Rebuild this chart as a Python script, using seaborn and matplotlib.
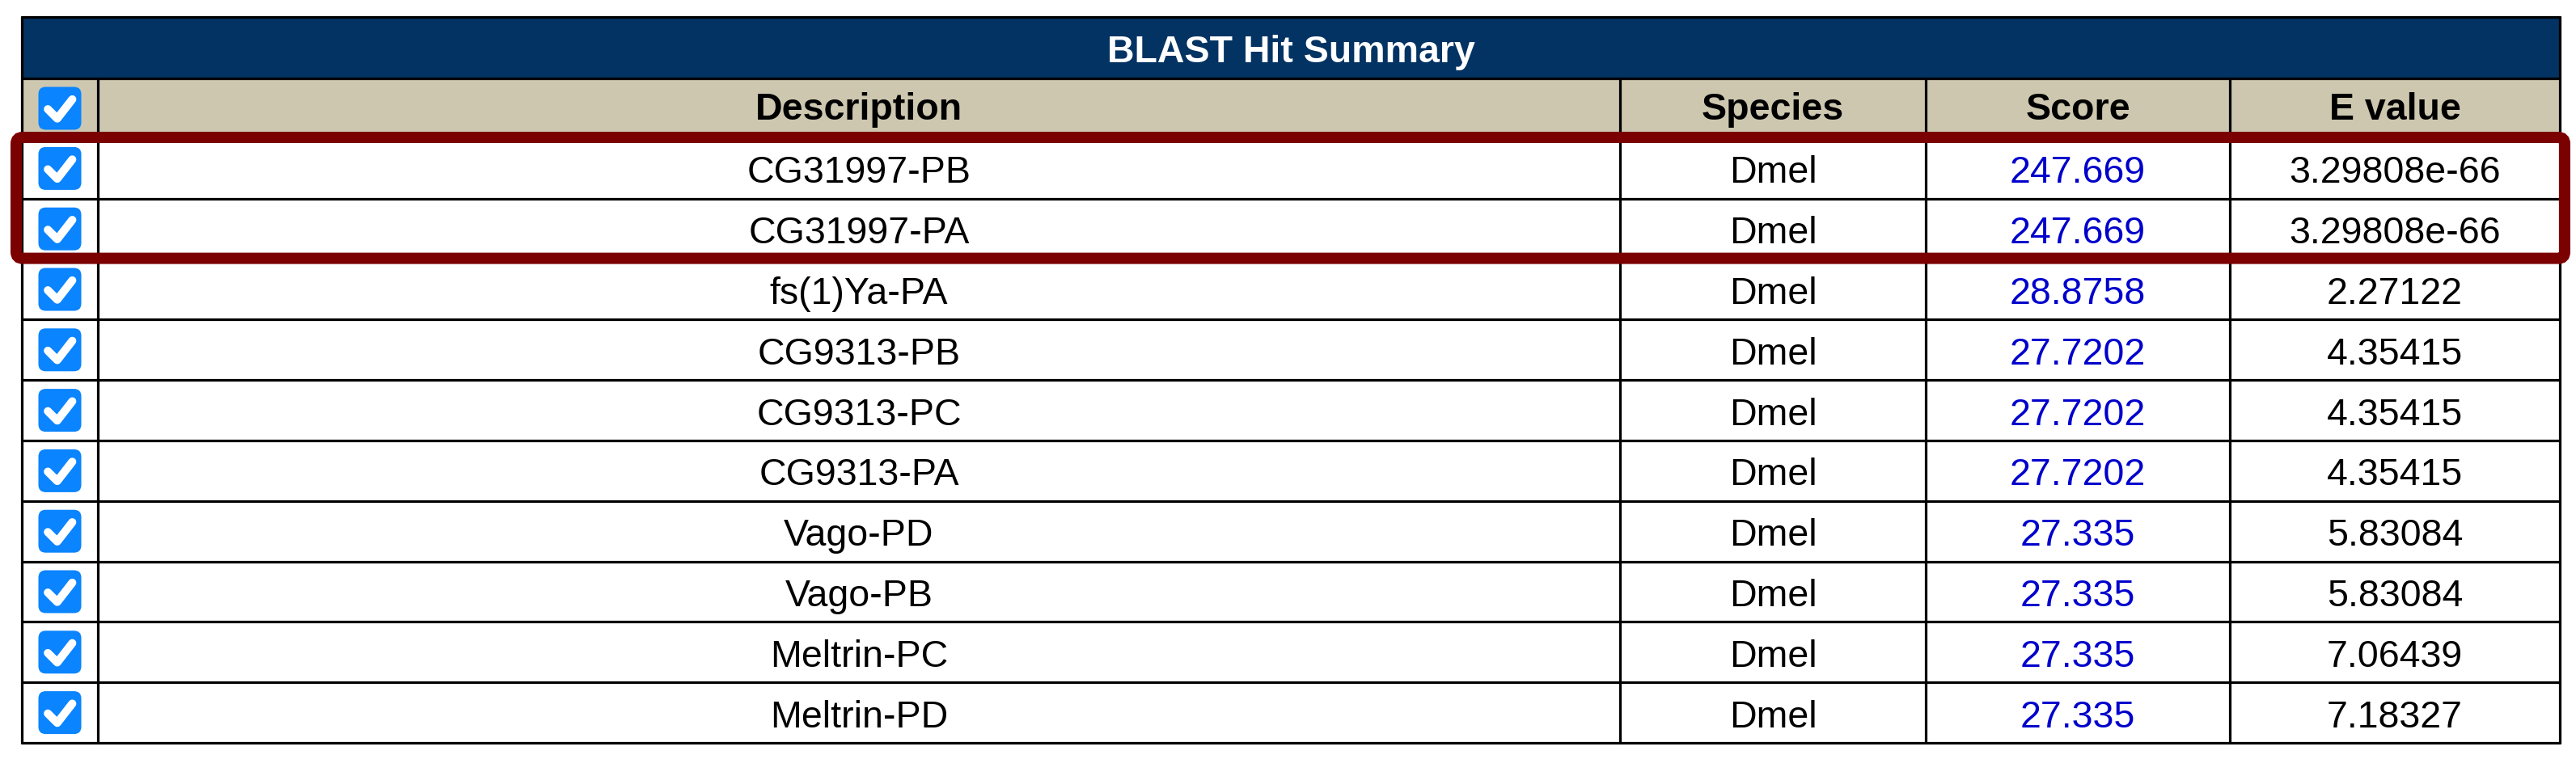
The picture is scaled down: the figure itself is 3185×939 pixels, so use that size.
import matplotlib
matplotlib.use("Agg")
import matplotlib.pyplot as plt
from matplotlib.patches import Rectangle, FancyBboxPatch
import seaborn as sns

sns.set_theme(style="white")
plt.rcParams['font.family'] = ['Liberation Sans', 'DejaVu Sans']

# ---- data ----
title = "BLAST Hit Summary"
headers = ["Description", "Species", "Score", "E value"]
descriptions = ["CG31997-PB", "CG31997-PA", "fs(1)Ya-PA", "CG9313-PB", "CG9313-PC",
                "CG9313-PA", "Vago-PD", "Vago-PB", "Meltrin-PC", "Meltrin-PD"]
species = ["Dmel"] * 10
scores = [247.669, 247.669, 28.8758, 27.7202, 27.7202, 27.7202, 27.335, 27.335, 27.335, 27.335]
evalues = [3.29808e-66, 3.29808e-66, 2.27122, 4.35415, 4.35415, 4.35415,
           5.83084, 5.83084, 7.06439, 7.18327]
highlighted_rows = [0, 1]

# ---- layout ----
W, H = 3185, 939
fig = plt.figure(figsize=(W / 100, H / 100), dpi=100)
ax = fig.add_axes([0, 0, 1, 1])
ax.set_xlim(0, W)
ax.set_ylim(H, 0)
ax.axis("off")

px = 72 / 100  # points per pixel
col_x = [27, 121, 2003, 2381, 2757, 3165]
title_top, title_bot = 21, 97
head_bot = 171
row_h = (919 - head_bot) / len(descriptions)
row_y = [head_bot + i * row_h for i in range(len(descriptions) + 1)]

NAVY = "#033363"
BEIGE = "#CDC7B0"
DARKRED = "#7B0000"
BLUE_TXT = "#0000CC"
CB_BLUE = "#0A84FF"
fs = 33.5

# title bar and header background
ax.add_patch(Rectangle((col_x[0], title_top), col_x[-1] - col_x[0], title_bot - title_top,
                       facecolor=NAVY, edgecolor="none", zorder=1))
ax.add_patch(Rectangle((col_x[0], title_bot), col_x[-1] - col_x[0], head_bot - title_bot,
                       facecolor=BEIGE, edgecolor="none", zorder=1))
ax.text((col_x[0] + col_x[-1]) / 2, (title_top + title_bot) / 2 + 18, title,
        color="white", fontsize=fs, fontweight="bold", ha="center", va="baseline", zorder=5)

# grid lines
lw = 3.2 * px
ax.plot([col_x[0], col_x[-1]], [title_top, title_top], color="black", lw=lw, zorder=3)
ax.plot([col_x[0], col_x[-1]], [title_bot, title_bot], color="black", lw=lw, zorder=3)
for y in row_y:
    ax.plot([col_x[0], col_x[-1]], [y, y], color="black", lw=lw, zorder=3)
for i, x in enumerate(col_x):
    y0 = title_top if i in (0, len(col_x) - 1) else title_bot
    ax.plot([x, x], [y0, row_y[-1]], color="black", lw=lw, zorder=3)


def checkbox(cx, cy, size=53):
    x0, y0 = cx - size / 2, cy - size / 2
    ax.add_patch(FancyBboxPatch((x0, y0), size, size,
                                boxstyle="round,pad=0,rounding_size=9",
                                facecolor=CB_BLUE, edgecolor="none", zorder=4))
    pts = [(0.22, 0.52), (0.44, 0.74), (0.79, 0.29)]
    ax.plot([x0 + p[0] * size for p in pts], [y0 + p[1] * size for p in pts],
            color="white", lw=10 * px, solid_capstyle="round", solid_joinstyle="round", zorder=5)


cb_x = (col_x[0] + col_x[1]) / 2
# header row
checkbox(cb_x, (title_bot + head_bot) / 2)
centers = [(col_x[i + 1] + col_x[i + 2]) / 2 for i in range(4)]
for c, h in zip(centers, headers):
    ax.text(c, (title_bot + head_bot) / 2 + 14, h, fontsize=fs, fontweight="bold",
            color="black", ha="center", va="baseline", zorder=5)

# body rows
for i in range(len(descriptions)):
    cy = (row_y[i] + row_y[i + 1]) / 2
    checkbox(cb_x, cy)
    base = cy + 18
    ax.text(centers[0], base, descriptions[i], fontsize=fs, color="black",
            ha="center", va="baseline", zorder=5)
    ax.text(centers[1], base, species[i], fontsize=fs, color="black",
            ha="center", va="baseline", zorder=5)
    ax.text(centers[2], base, f"{scores[i]:g}", fontsize=fs, color=BLUE_TXT,
            ha="center", va="baseline", zorder=5)
    ax.text(centers[3], base, f"{evalues[i]:g}", fontsize=fs, color="black",
            ha="center", va="baseline", zorder=5)

# highlight box around top hits
r0, r1 = min(highlighted_rows), max(highlighted_rows) + 1
ax.add_patch(FancyBboxPatch((20, row_y[r0] - 1), 3171 - 20, row_y[r1] - row_y[r0],
                            boxstyle="round,pad=0,rounding_size=8",
                            facecolor="none", edgecolor=DARKRED, lw=14 * px, zorder=6))

fig.savefig("out.png", dpi=100, facecolor="white")
